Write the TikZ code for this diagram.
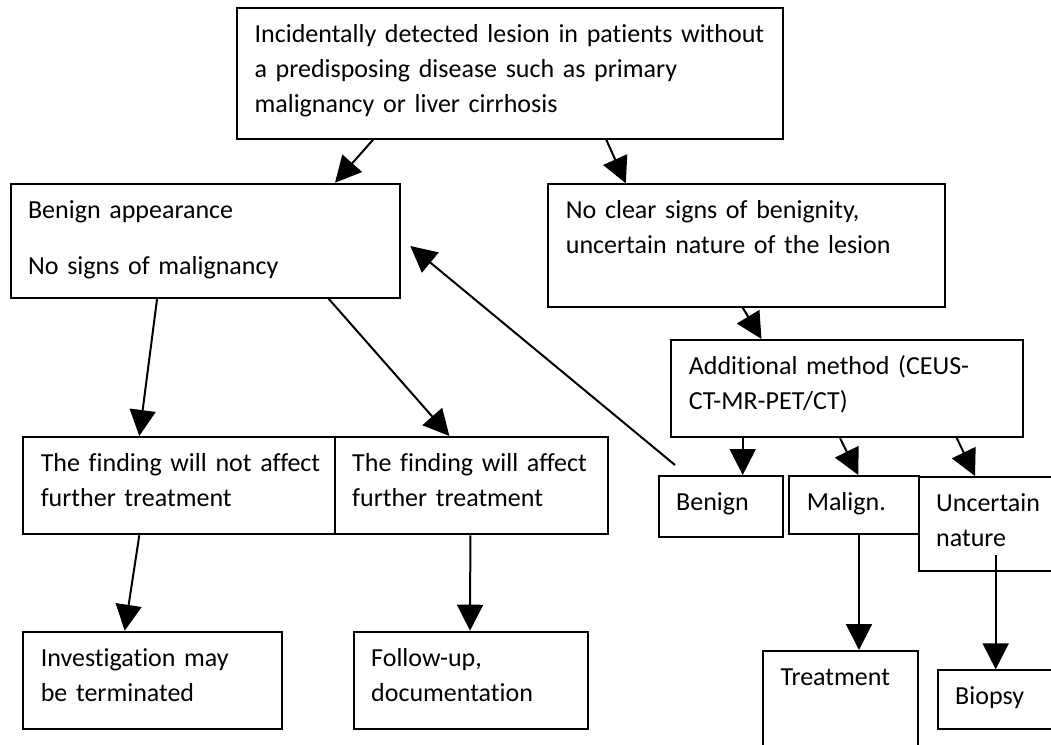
\documentclass[tikz,border=0pt]{standalone}
\usepackage{fontspec}
\setmainfont{Carlito}[Ligatures={NoCommon,NoRare,NoContextual}]
\usetikzlibrary{arrows.meta,positioning}

\newcommand{\boxlines}[1]{\begin{tabular}[t]{@{}l@{}}#1\end{tabular}}

\begin{document}
\begin{tikzpicture}[x=0.5pt, y=-0.5pt,
    box/.style={draw, rectangle, line width=1pt, anchor=north west, inner xsep=8.75pt, inner ysep=0pt, text height=17.25pt, font=\fontsize{13pt}{17.5pt}\selectfont},
    arr/.style={line width=1pt, -{Triangle[length=13pt,width=13pt]}}]
    \useasboundingbox[fill=white] (0,0) rectangle (1051,745);

    % Starting point at top
    \node [box, text width=255.3pt, text depth=47.95pt] (top) at (236.1,7.3) {\boxlines{Incidentally detected lesion in patients without\\a predisposing disease such as primary\\malignancy or liver cirrhosis}};

    % Left branch
    \node [box, text width=177.3pt, text depth=39.75pt] (benapp) at (9.6,182.7) {\boxlines{Benign appearance\\[10.85pt]No signs of malignancy}};
    \node [box, text width=138.2pt, text depth=31.4pt] (noaff) at (22.3,436) {\boxlines{The finding will not affect\\further treatment}};
    \node [box, text width=119.2pt, text depth=31.4pt, right=-1pt of noaff] (aff) {\boxlines{The finding will affect\\further treatment}};
    \node [box, text width=111.7pt, text depth=31.4pt] (invest) at (22.3,630.7) {\boxlines{Investigation may\\be terminated}};
    \node [box, text width=99.8pt, text depth=31.4pt] (follow) at (352.7,630.7) {\boxlines{Follow-up,\\documentation}};

    % Right branch
    \node [box, text width=180.6pt, text depth=43.95pt] (noclear) at (547.4,183.3) {\boxlines{No clear signs of benignity,\\uncertain nature of the lesion}};
    \node [box, text width=158.15pt, text depth=31.25pt] (addl) at (670.3,339) {\boxlines{Additional method (CEUS-\\CT-MR-PET/CT)}};

    % Results of the additional method
    \node [box, text width=44.5pt, text depth=13.25pt] (benign) at (657.7,475) {\boxlines{Benign}};
    \node [box, text width=47.5pt, text depth=11.9pt] (malign) at (788.3,475) {\boxlines{Malign.}};
    \node [box, text width=57.5pt, text depth=29.75pt] (uncert) at (917.7,476) {\boxlines{Uncertain\\nature}};
    \node [box, text width=60.15pt, text depth=37.75pt] (treat) at (762,650) {\boxlines{Treatment}};
    \node [box, text width=57.5pt, text depth=12.25pt] (biopsy) at (936.7,669.3) {\boxlines{Biopsy}};

    % Connections
    \draw [arr] ([xshift=68.5pt]top.south west) -- ([xshift=162.7pt]benapp.north west);
    \draw [arr] ([xshift=185.1pt]top.south west) -- ([xshift=39.2pt]noclear.north west);
    \draw [arr] ([xshift=73.75pt]benapp.south west) -- ([xshift=58.5pt]noaff.north west);
    \draw [arr] ([xshift=159.5pt]benapp.south west) -- ([xshift=57.85pt]aff.north west);
    \draw [arr] ([xshift=58.5pt]noaff.south west) -- ([xshift=51.2pt]invest.north west);
    \draw [arr] ([xshift=68.35pt]aff.south west) -- ([xshift=58.65pt]follow.north west);
    \draw [arr] ([xshift=97.65pt]noclear.south west) -- ([xshift=45.6pt]addl.north west);
    \draw [arr] ([xshift=36.2pt]addl.south west) -- ([xshift=42.5pt]benign.north west);
    \draw [arr] ([xshift=84.85pt]addl.south west) -- ([xshift=35pt]malign.north west);
    \draw [arr] ([xshift=143.2pt]addl.south west) -- ([xshift=28.65pt]uncert.north west);
    \draw [arr] ([xshift=35.35pt]malign.south west) -- ([xshift=48.5pt]treat.north west);
    \draw [arr] ([xshift=39pt,yshift=8.35pt]uncert.south west) -- ([xshift=29.5pt]biopsy.north west);

    % Benign result leads back to the left branch
    \draw [arr] ([xshift=8.65pt,yshift=5pt]benign.north west) -- ([xshift=4.55pt,yshift=-31.65pt]benapp.north east);
\end{tikzpicture}
\end{document}
